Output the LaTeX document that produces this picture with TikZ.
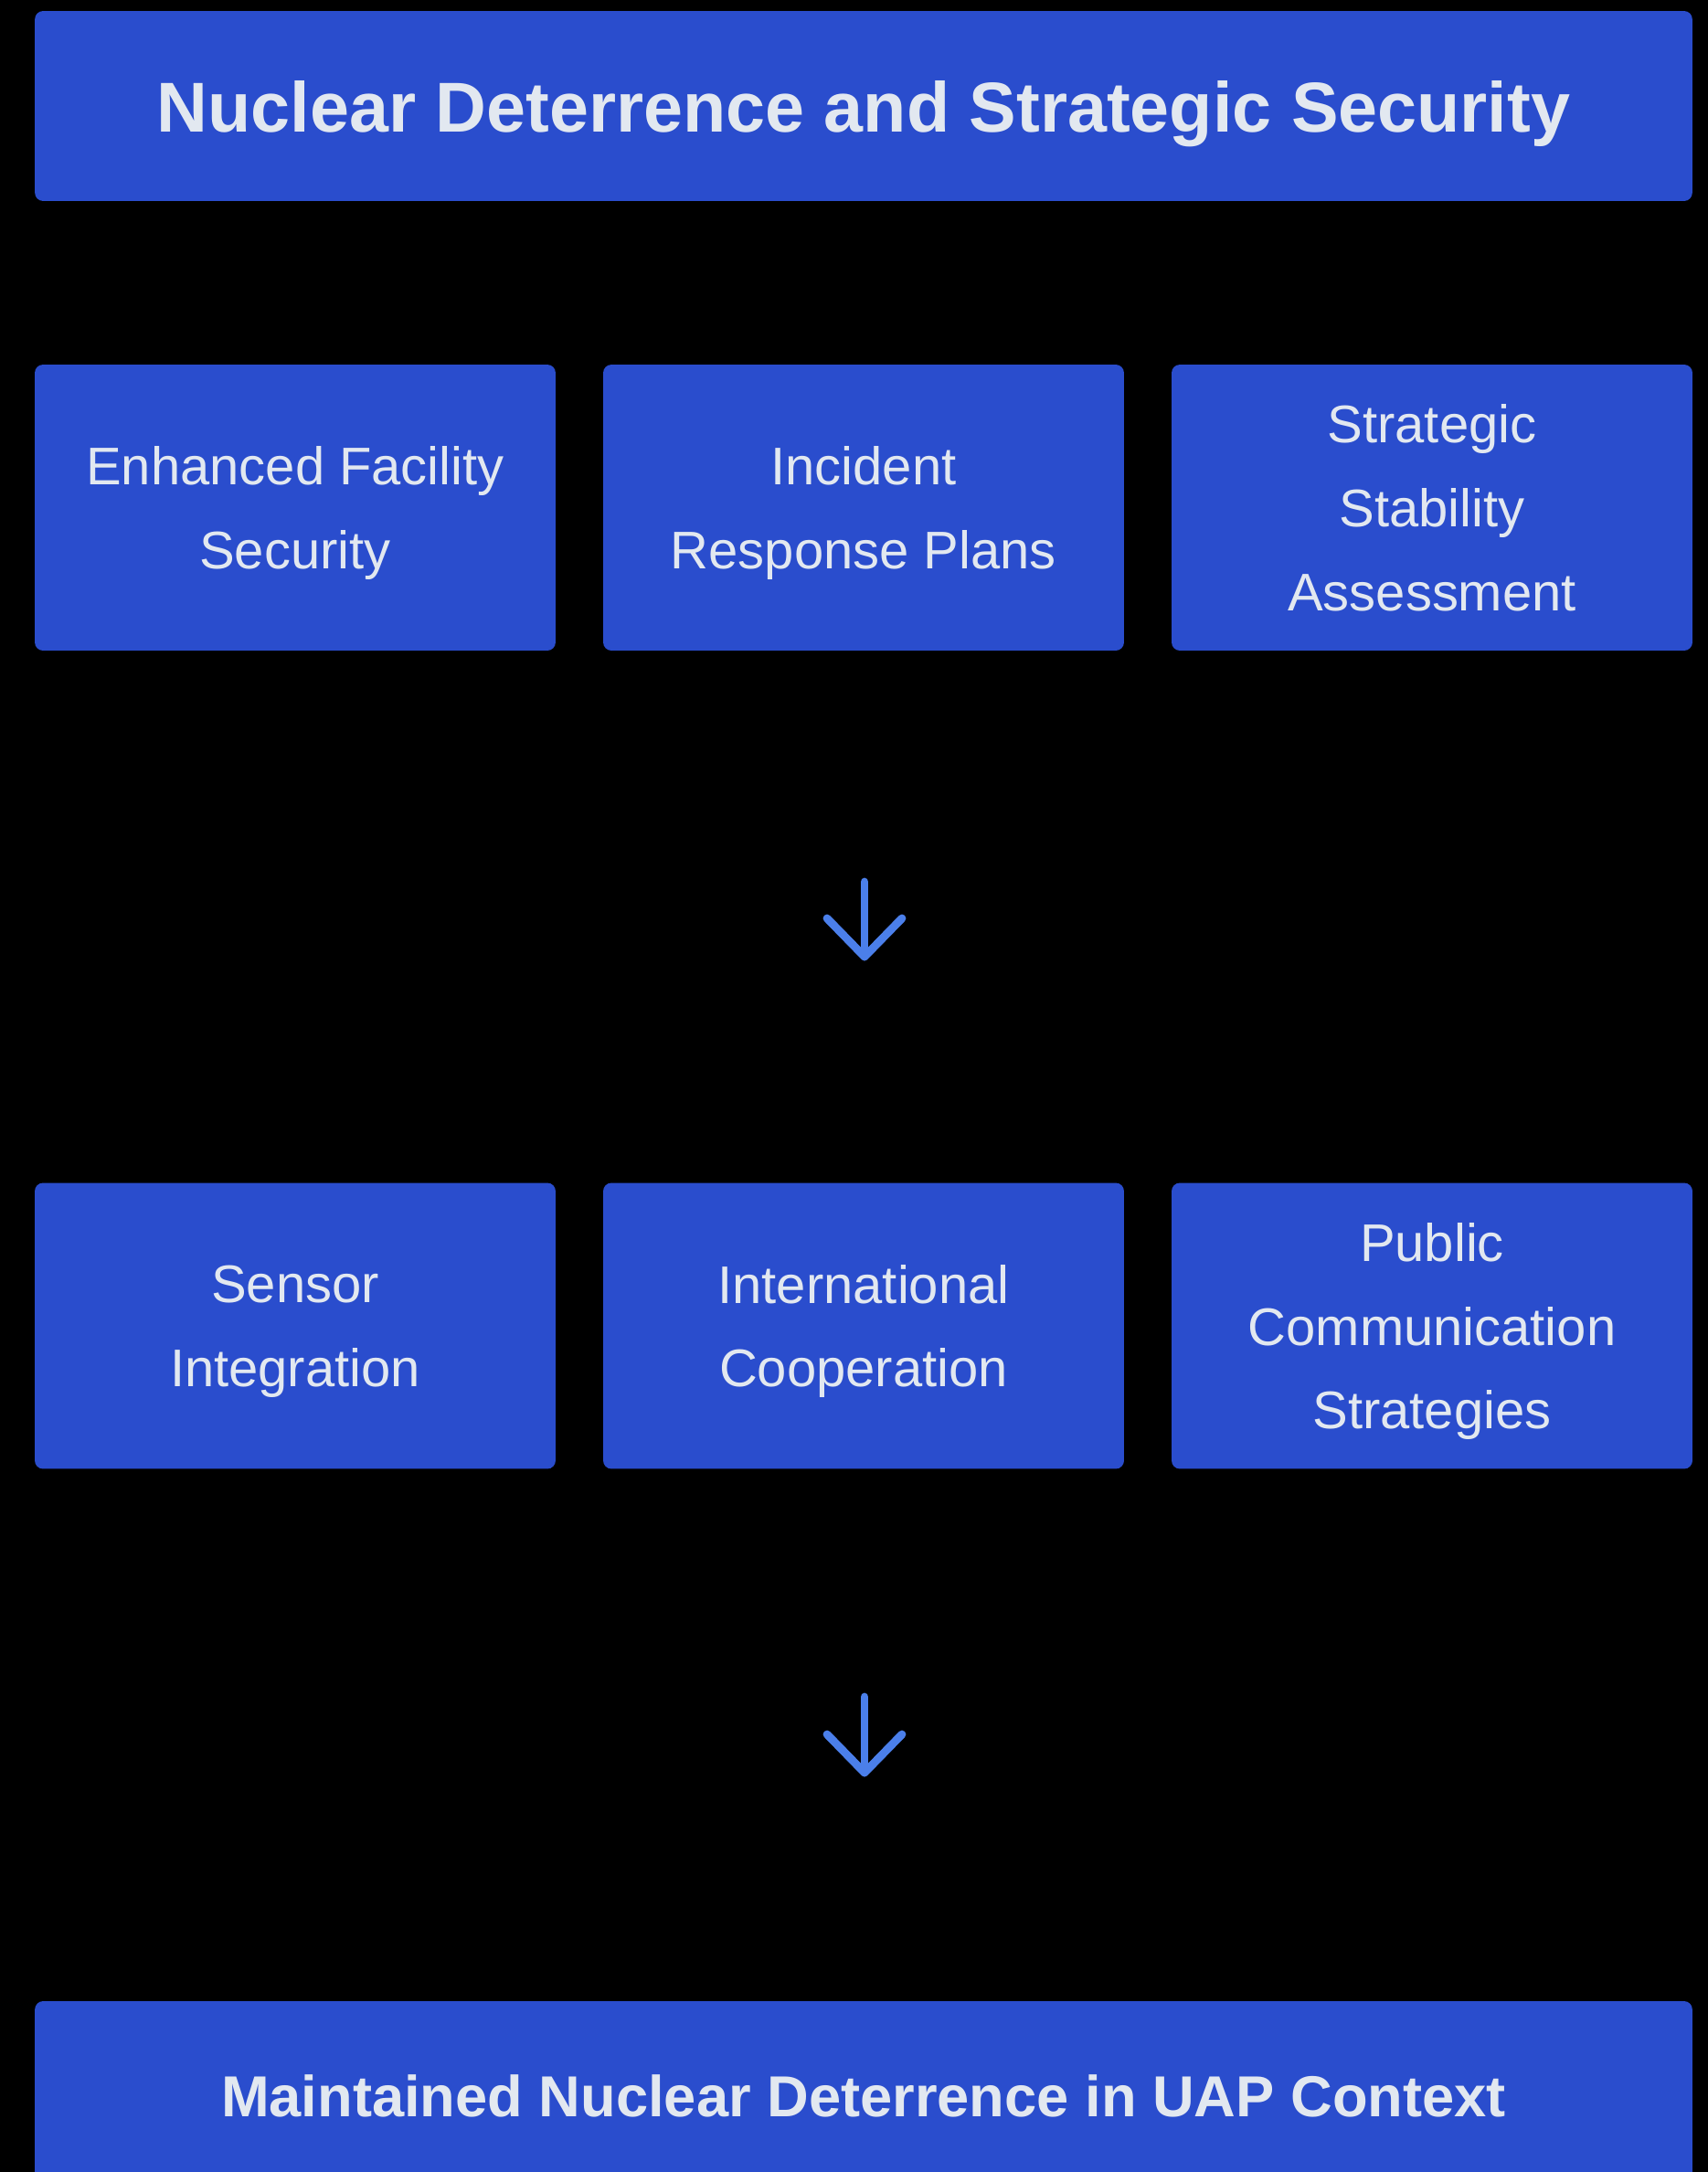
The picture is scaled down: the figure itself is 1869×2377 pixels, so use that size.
\documentclass[tikz,border=0pt]{standalone}
\usepackage{fontspec}
\setmainfont{Liberation Sans}
\usepackage{tikz}
\usetikzlibrary{calc}

\definecolor{boxblue}{HTML}{2A4DCD}
\definecolor{txtgray}{HTML}{E2E8F0}
\definecolor{arrowblue}{HTML}{4B7FEA}

\tikzset{
  headbox/.style={fill=boxblue, rounded corners=0.18cm, text=txtgray, align=center,
    minimum width=36.28cm, minimum height=4.16cm, inner sep=0pt, text depth=0pt,
    font=\fontsize{44}{56}\selectfont\bfseries},
  itembox/.style={fill=boxblue, rounded corners=0.18cm, text=txtgray, align=center,
    minimum width=11.4cm, minimum height=6.26cm, inner sep=0pt, text depth=0pt,
    font=\fontsize{33}{52.3}\selectfont},
  flow/.style={draw=arrowblue, line width=5pt, line cap=round, line join=round}
}

\begin{document}
\begin{tikzpicture}[x=0.02cm, y=-0.02cm]

\fill[black] (0,0) rectangle (1869,2377);
\useasboundingbox (0,0) rectangle (1869,2377);

% top
\node [headbox] (top) at (945,116) {Nuclear Deterrence and Strategic Security};

% first row
\node [itembox] (fac) at (323,555.5) {Enhanced Facility\\Security};
\node [itembox] (inc) at (945,555.5) {Incident\\Response Plans};
\node [itembox] (stab) at (1567,555.5) {Strategic\\Stability\\Assessment};

% second row
\node [itembox] (sens) at (323,1451) {Sensor\\Integration};
\node [itembox] (intl) at (945,1451) {International\\Cooperation};
\node [itembox] (pub) at (1567,1451) {Public\\Communication\\Strategies};

% bottom (cut off by the page)
\node [headbox, font=\fontsize{36}{46}\selectfont\bfseries] (outc) at (945,2294) {Maintained Nuclear Deterrence in UAP Context};

% arrows
\coordinate (a1s) at (946,965);
\coordinate (a1e) at (946,1047);
\coordinate (a2s) at (946,1857);
\coordinate (a2e) at (946,1940);

\draw[flow] (a1s) -- (a1e);
\draw[flow] ($(a1e)+(-41,-42)$) -- (a1e) -- ($(a1e)+(41,-42)$);
\draw[flow] (a2s) -- (a2e);
\draw[flow] ($(a2e)+(-41,-42)$) -- (a2e) -- ($(a2e)+(41,-42)$);

%\draw[flow] (inc) -- (intl);

\end{tikzpicture}
\end{document}
